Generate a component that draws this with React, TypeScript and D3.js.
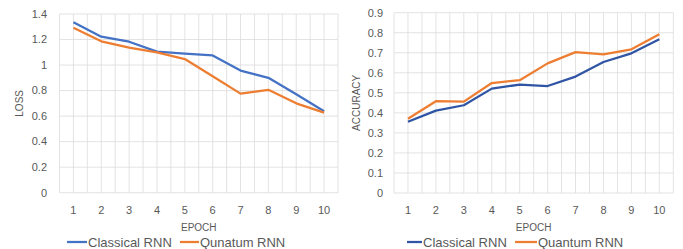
import React from "react";
import * as d3 from "d3";

const epochs = ["1", "2", "3", "4", "5", "6", "7", "8", "9", "10"];

const lossClassical = [1.335, 1.222, 1.183, 1.105, 1.09, 1.075, 0.957, 0.9, 0.771, 0.638];
const lossQuantum = [1.293, 1.186, 1.136, 1.1, 1.047, 0.912, 0.776, 0.806, 0.7, 0.627];
const lossTicks = [0, 0.2, 0.4, 0.6, 0.8, 1, 1.2, 1.4];

const accClassical = [0.356, 0.411, 0.438, 0.521, 0.541, 0.534, 0.581, 0.654, 0.697, 0.767];
const accQuantum = [0.371, 0.458, 0.456, 0.549, 0.563, 0.647, 0.703, 0.692, 0.717, 0.792];
const accTicks = [0, 0.1, 0.2, 0.3, 0.4, 0.5, 0.6, 0.7, 0.8, 0.9];

const FONT = "'Liberation Sans', Arial, sans-serif";
const GRID = "#d9d9d9";
const TEXT = "#595959";

type ChartProps = {
  left: number;
  right: number;
  top: number;
  bottom: number;
  ticks: number[];
  yLabel: string;
  yLabelX: number;
  tickX: number;
  a: number[];
  b: number[];
  aColor: string;
  bColor: string;
  names: string[];
  legend: number[]; // line start positions
  legendLen: number[];
};

const Chart = (p: ChartProps) => {
  const x = d3.scaleBand().domain(epochs).range([p.left, p.right]);
  const y = d3
    .scaleLinear()
    .domain([0, p.ticks[p.ticks.length - 1]])
    .range([p.bottom, p.top]);
  const cx = (d: string) => (x(d) as number) + x.bandwidth() / 2;
  const line = d3
    .line<number>()
    .x((_, i) => cx(epochs[i]))
    .y((d) => y(d));

  // gridlines at category edges and centres, like the original
  const vgrid: number[] = [];
  epochs.forEach((e) => {
    vgrid.push(x(e) as number);
    vgrid.push(cx(e));
  });
  vgrid.push(p.right);

  const fmt = (v: number) => String(+v.toFixed(1));

  return (
    <g fontFamily={FONT}>
      {vgrid.map((gx, i) => (
        <line key={"v" + i} x1={gx} x2={gx} y1={p.top} y2={p.bottom} stroke={GRID} strokeWidth={0.75} />
      ))}
      {p.ticks.map((t) => (
        <line key={"h" + t} x1={p.left} x2={p.right} y1={y(t)} y2={y(t)} stroke={GRID} strokeWidth={0.75} />
      ))}
      {p.ticks.map((t) => (
        <text key={"t" + t} x={p.tickX} y={y(t)} dy="0.35em" textAnchor="end" fontSize={11} fill={TEXT}>
          {fmt(t)}
        </text>
      ))}
      {epochs.map((e) => (
        <text key={"x" + e} x={cx(e)} y={p.bottom + 21} textAnchor="middle" fontSize={11} fill={TEXT}>
          {e}
        </text>
      ))}
      <text x={(p.left + p.right) / 2} y={p.bottom + 38} textAnchor="middle" fontSize={10} fill={TEXT}>
        EPOCH
      </text>
      <text
        transform={`translate(${p.yLabelX},${(p.top + p.bottom) / 2}) rotate(-90)`}
        textAnchor="middle"
        fontSize={10}
        fill={TEXT}
      >
        {p.yLabel}
      </text>
      <path d={line(p.a) || ""} fill="none" stroke={p.aColor} strokeWidth={2.25} strokeLinejoin="round" />
      <path d={line(p.b) || ""} fill="none" stroke={p.bColor} strokeWidth={2.25} strokeLinejoin="round" />
      {[p.aColor, p.bColor].map((c, i) => (
        <g key={"l" + i}>
          <line x1={p.legend[i]} x2={p.legend[i] + p.legendLen[i]} y1={242} y2={242} stroke={c} strokeWidth={2.25} />
          <text x={p.legend[i] + p.legendLen[i] + 1} y={246.5} fontSize={13} fill={TEXT}>
            {p.names[i]}
          </text>
        </g>
      ))}
    </g>
  );
};

export default function App() {
  return (
    <svg
      width={683}
      height={249}
      style={{ position: "absolute", left: 0, top: 0, background: "#fff" }}
    >
      <rect width={683} height={249} fill="#fff" />
      <Chart
        left={59.5}
        right={338}
        top={14}
        bottom={192.7}
        ticks={lossTicks}
        yLabel="LOSS"
        yLabelX={23}
        tickX={47}
        a={lossClassical}
        b={lossQuantum}
        aColor="#4472c4"
        bColor="#ed7d31"
        names={["Classical RNN", "Qunatum RNN"]}
        legend={[67, 180]}
        legendLen={[20, 19]}
      />
      <Chart
        left={394}
        right={673.3}
        top={12.7}
        bottom={193}
        ticks={accTicks}
        yLabel="ACCURACY"
        yLabelX={360}
        tickX={383}
        a={accClassical}
        b={accQuantum}
        aColor="#2f55a4"
        bColor="#ed7d31"
        names={["Classical RNN", "Quantum RNN"]}
        legend={[407, 515]}
        legendLen={[15, 22]}
      />
    </svg>
  );
}
